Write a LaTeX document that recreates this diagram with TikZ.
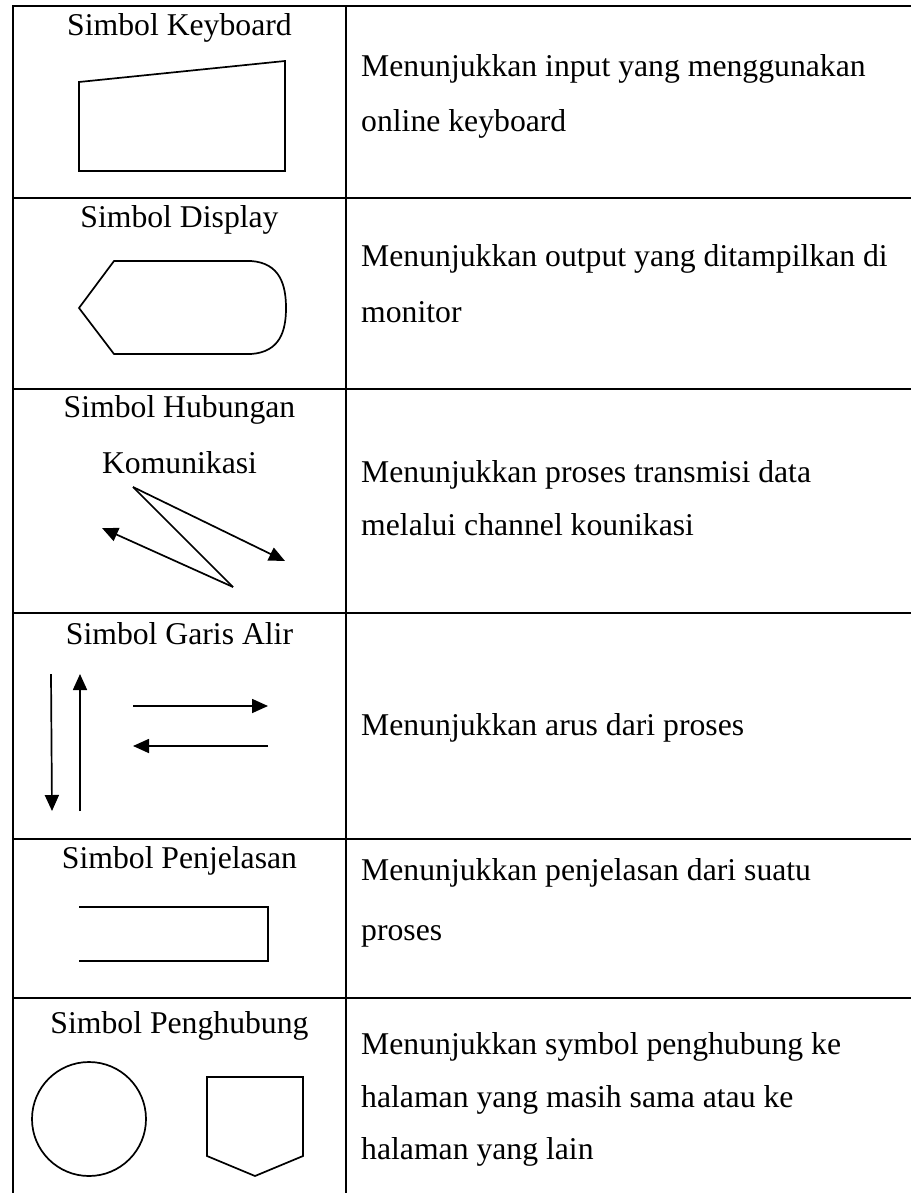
\documentclass[tikz,border=0pt]{standalone}
\usepackage{fontspec}
\setmainfont{Liberation Serif}
\usetikzlibrary{arrows.meta}
\begin{document}
\begin{tikzpicture}[x=1pt,y=-1pt,
  grid/.style={line width=2.2pt},
  shp/.style={line width=1.7pt, line join=miter},
  arr/.style={line width=1.7pt,-{Triangle[length=16pt,width=14pt]}},
  desc/.style={anchor=base west, inner sep=0pt, font=\fontsize{31.7}{38}\selectfont},
  ttl/.style={anchor=base, inner sep=0pt, font=\fontsize{31.7}{38}\selectfont}]
\useasboundingbox (0,0) rectangle (911,1193);
% table lines
\draw[grid] (13,1193) -- (13,6) -- (911,6);
\draw[grid] (346,6) -- (346,1193);
\foreach \yy in {198,389,613,839,998}{\draw[grid] (13,\yy) -- (911,\yy);}
% row 1
\node[ttl] (t1) at (179.5,36) {Simbol Keyboard};
\draw[shp] (79,82) -- (285,61) -- (285,171) -- (79,171) -- cycle;
\node[desc] (d1a) at (361,77) {Menunjukkan input yang menggunakan};
\node[desc] (d1b) at (361,132) {online keyboard};
% row 2
\node[ttl] (t2) at (179.5,227) {Simbol Display};
\draw[shp] (79,308) -- (114,261) -- (251,261) .. controls (280,263) and (286,285) .. (286,308)
  .. controls (286,331) and (280,352) .. (251,354) -- (114,354) -- cycle;
\node[desc] (d2a) at (361,266) {Menunjukkan output yang ditampilkan di};
\node[desc] (d2b) at (361,322) {monitor};
% row 3
\node[ttl] (t3a) at (179.5,417) {Simbol Hubungan};
\node[ttl] (t3b) at (179.5,473) {Komunikasi};
\coordinate (c3top) at (133,487);
\coordinate (c3bot) at (233,587);
\coordinate (c3r) at (285,561);
\coordinate (c3l) at (102,528);
\draw[shp] (c3top) -- (c3bot);
\draw[arr] (c3top) -- (c3r);
\draw[arr] (c3bot) -- (c3l);
\node[desc] (d3a) at (361,482) {Menunjukkan proses transmisi data};
\node[desc] (d3b) at (361,535) {melalui channel kounikasi};
% row 4
\node[ttl] (t4) at (179.5,644) {Simbol Garis Alir};
\coordinate (a1s) at (51,674); \coordinate (a1e) at (52,811);
\coordinate (a2s) at (80,811); \coordinate (a2e) at (80,674);
\coordinate (a3s) at (133,706); \coordinate (a3e) at (268,706);
\coordinate (a4s) at (268,746); \coordinate (a4e) at (133,746);
\draw[arr] (a1s) -- (a1e);
\draw[arr] (a2s) -- (a2e);
\draw[arr] (a3s) -- (a3e);
\draw[arr] (a4s) -- (a4e);
\node[desc] (d4) at (361,735) {Menunjukkan arus dari proses};
% row 5
\node[ttl] (t5) at (179.5,868) {Simbol Penjelasan};
\draw[shp] (79,907) -- (268,907) -- (268,961) -- (79,961);
\node[desc] (d5a) at (361,880) {Menunjukkan penjelasan dari suatu};
\node[desc] (d5b) at (361,940) {proses};
% row 6
\node[ttl] (t6) at (179.5,1033) {Simbol Penghubung};
\draw[shp] (89,1119) circle (57);
\draw[shp] (207,1077) -- (303,1077) -- (303,1156) -- (255,1176) -- (207,1156) -- cycle;
\node[desc] (d6a) at (361,1054) {Menunjukkan symbol penghubung ke};
\node[desc] (d6b) at (361,1107) {halaman yang masih sama atau ke};
\node[desc] (d6c) at (361,1159) {halaman yang lain};
\end{tikzpicture}
\end{document}
